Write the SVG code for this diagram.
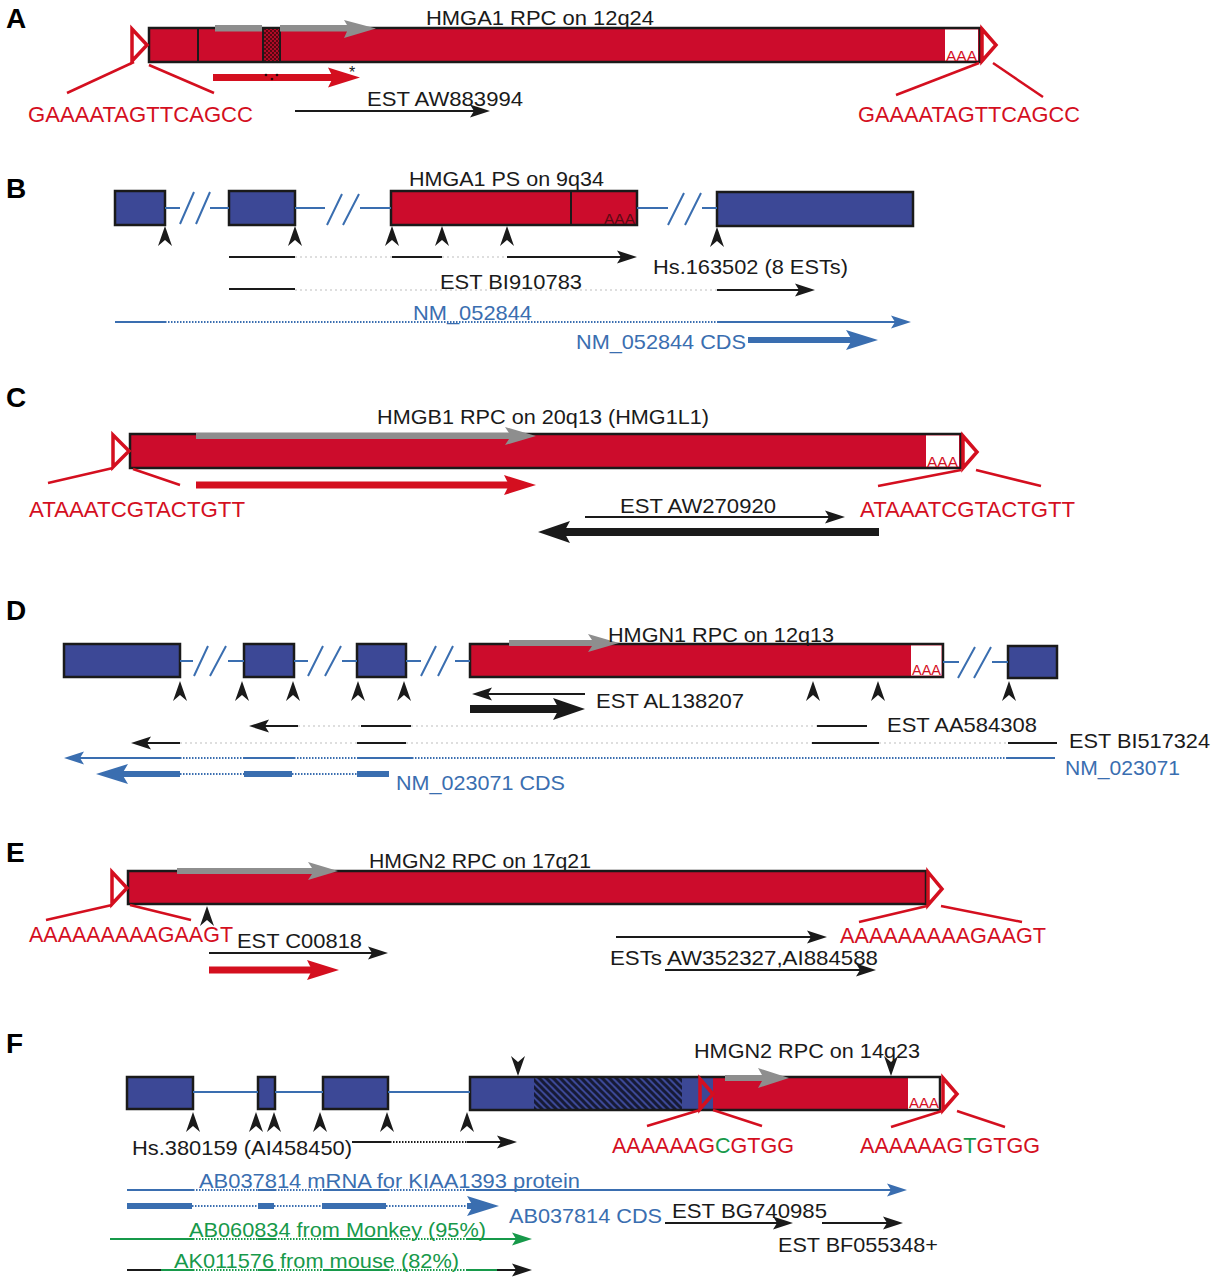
<svg xmlns="http://www.w3.org/2000/svg" width="1213" height="1280" viewBox="0 0 1213 1280">
<style>
.t{font-family:"Liberation Sans",Arial,Helvetica,sans-serif;font-size:21px;fill:#1a1a1a}
.L{font-family:"Liberation Sans",Arial,Helvetica,sans-serif;font-weight:bold;font-size:28px;fill:#000}
.s{fill:#d40f1f;font-size:22px}
.b{fill:#3a6eb0}
.g{fill:#17994a}
.aaa{font-family:"Liberation Sans",Arial,sans-serif;font-size:15px;fill:#d40f1f}
.rbox{fill:#cc0c2c;stroke:#1a1a1a;stroke-width:2.5}
.bbox{fill:#3c4896;stroke:#1a1a1a;stroke-width:2.5}
.wbox{fill:#fff}
.tri{fill:none;stroke:#d40f1f;stroke-width:3.5}
.rl{stroke:#d40f1f;stroke-width:2.5;fill:none}
.kl{stroke:#1a1a1a;stroke-width:2;fill:none}
.kT{stroke:#1a1a1a;stroke-width:8;fill:none}
.bl{stroke:#3a6eb0;stroke-width:2;fill:none}
.bT{stroke:#3a6eb0;stroke-width:6;fill:none}
.rT{stroke:#d40f1f;stroke-width:7;fill:none}
.gl{stroke:#17994a;stroke-width:2;fill:none}
.dt{stroke-dasharray:1.5 1.5}
.fa{stroke:#d4d4d4;stroke-width:1.5;stroke-dasharray:2 3;fill:none}
.gray{fill:#8e8e8e}
.chev{fill:#1a1a1a}
</style>
<defs>
<marker id="mK" markerUnits="userSpaceOnUse" markerWidth="20" markerHeight="13" refX="5" refY="6.5" orient="auto" overflow="visible"><path d="M0,0 L20,6.5 L0,13 L4,6.5 Z" fill="#1a1a1a"/></marker>
<marker id="mKT" markerUnits="userSpaceOnUse" markerWidth="32" markerHeight="22" refX="7" refY="11" orient="auto" overflow="visible"><path d="M0,0 L32,11 L0,22 L6,11 Z" fill="#1a1a1a"/></marker>
<marker id="mB" markerUnits="userSpaceOnUse" markerWidth="20" markerHeight="13" refX="5" refY="6.5" orient="auto" overflow="visible"><path d="M0,0 L20,6.5 L0,13 L4,6.5 Z" fill="#3a6eb0"/></marker>
<marker id="mBT" markerUnits="userSpaceOnUse" markerWidth="32" markerHeight="20" refX="7" refY="10" orient="auto" overflow="visible"><path d="M0,0 L32,10 L0,20 L6,10 Z" fill="#3a6eb0"/></marker>
<marker id="mR" markerUnits="userSpaceOnUse" markerWidth="32" markerHeight="20" refX="6" refY="10" orient="auto" overflow="visible"><path d="M0,0 L32,10 L0,20 L5,10 Z" fill="#d40f1f"/></marker>
<marker id="mG" markerUnits="userSpaceOnUse" markerWidth="20" markerHeight="13" refX="5" refY="6.5" orient="auto" overflow="visible"><path d="M0,0 L20,6.5 L0,13 L4,6.5 Z" fill="#17994a"/></marker>
<path id="chev" d="M0,0 L7,20 L0,14 L-7,20 Z"/>
<pattern id="stip" patternUnits="userSpaceOnUse" width="4" height="4"><rect width="4" height="4" fill="#b00a26"/><circle cx="1" cy="1" r="0.9" fill="#2a0508"/><circle cx="3" cy="3" r="0.9" fill="#2a0508"/></pattern>
<pattern id="hatch" patternUnits="userSpaceOnUse" width="7" height="7"><rect width="7" height="7" fill="#3c4896"/><path d="M0,0 L7,7 M-3.5,3.5 L3.5,10.5 M3.5,-3.5 L10.5,3.5" stroke="#161a36" stroke-width="3"/></pattern>
</defs>
<rect width="1213" height="1280" fill="#fff"/>

<!-- ================= PANEL A ================= -->
<g id="panelA">
<text class="L" x="6" y="28">A</text>
<g id="A-rpc">
<rect class="rbox" x="149" y="28" width="831" height="34"/>
<rect x="263" y="29" width="17" height="32" fill="url(#stip)"/>
<line x1="263" y1="28" x2="263" y2="62" class="kl"/>
<line x1="280" y1="28" x2="280" y2="62" class="kl"/>
<line x1="198" y1="28" x2="198" y2="62" class="kl"/>
<rect class="wbox" x="945" y="29.5" width="33" height="31"/>
<text class="aaa" x="946" y="61" textLength="31" lengthAdjust="spacingAndGlyphs">AAA</text>
<rect class="gray" x="215" y="25" width="47" height="6.5"/>
<path class="gray" d="M280,25 L347,25 L344,20 L376,28.5 L344,38 L347,31.5 L280,31.5 Z"/>
<text class="t" x="426" y="25" textLength="228" lengthAdjust="spacingAndGlyphs">HMGA1 RPC on 12q24</text>
</g>
<g id="A-tsd-left">
<polygon class="tri" points="132,29 147,45 132,61"/>
<text class="t s" x="28" y="122" textLength="225" lengthAdjust="spacingAndGlyphs">GAAAATAGTTCAGCC</text>
</g>
<g id="A-tsd-right">
<polygon class="tri" points="982,29 996,45 982,61"/>
<text class="t s" x="858" y="122" textLength="222" lengthAdjust="spacingAndGlyphs">GAAAATAGTTCAGCC</text>
</g>
<g id="A-est">
<text class="t" x="367" y="106" textLength="156" lengthAdjust="spacingAndGlyphs">EST AW883994</text>
<text class="t" x="349" y="78" style="font-size:16px">*</text>
</g>
</g>

<!-- ================= PANEL B ================= -->
<g id="panelB">
<text class="L" x="6" y="198">B</text>
<g id="B-exon1"><rect class="bbox" x="115" y="191" width="50" height="34"/></g>
<g id="B-exon2"><rect class="bbox" x="229" y="191" width="66" height="34"/></g>
<g id="B-ps">
<rect class="rbox" x="391" y="191" width="246" height="34"/>
<line x1="571" y1="191" x2="571" y2="225" class="kl"/>
<text class="aaa" x="604" y="224" textLength="31" lengthAdjust="spacingAndGlyphs" style="fill:#5a0a14">AAA</text>
<text class="t" x="409" y="186" textLength="195" lengthAdjust="spacingAndGlyphs">HMGA1 PS on 9q34</text>
</g>
<g id="B-exon4"><rect class="bbox" x="717" y="192" width="196" height="34"/></g>
<g id="B-labels">
<text class="t" x="440" y="289" textLength="142" lengthAdjust="spacingAndGlyphs">EST BI910783</text>
<text class="t" x="653" y="274" textLength="195" lengthAdjust="spacingAndGlyphs">Hs.163502 (8 ESTs)</text>
<text class="t b" x="413" y="320" textLength="119" lengthAdjust="spacingAndGlyphs">NM_052844</text>
<text class="t b" x="576" y="349" textLength="170" lengthAdjust="spacingAndGlyphs">NM_052844 CDS</text>
</g>
</g>

<!-- ================= PANEL C ================= -->
<g id="panelC">
<text class="L" x="6" y="407">C</text>
<g id="C-rpc">
<rect class="rbox" x="130" y="434" width="831" height="34"/>
<rect class="wbox" x="926" y="435.5" width="33" height="31"/>
<text class="aaa" x="927" y="467" textLength="31" lengthAdjust="spacingAndGlyphs">AAA</text>
<path class="gray" d="M196,433 L509,433 L505,427 L536,436 L505,445 L509,439 L196,439 Z"/>
<text class="t" x="377" y="424" textLength="332" lengthAdjust="spacingAndGlyphs">HMGB1 RPC on 20q13 (HMG1L1)</text>
</g>
<g id="C-tsd-left">
<polygon class="tri" points="113,435 129,451 113,467"/>
<text class="t s" x="29" y="517" textLength="216" lengthAdjust="spacingAndGlyphs">ATAAATCGTACTGTT</text>
</g>
<g id="C-tsd-right">
<polygon class="tri" points="963,436 977,452 963,468"/>
<text class="t s" x="860" y="517" textLength="215" lengthAdjust="spacingAndGlyphs">ATAAATCGTACTGTT</text>
</g>
<g id="C-est"><text class="t" x="620" y="513" textLength="156" lengthAdjust="spacingAndGlyphs">EST AW270920</text></g>
</g>

<!-- ================= PANEL D ================= -->
<g id="panelD">
<text class="L" x="6" y="620">D</text>
<g id="D-exon1"><rect class="bbox" x="64" y="644" width="116" height="33"/></g>
<g id="D-exon2"><rect class="bbox" x="244" y="644" width="50" height="33"/></g>
<g id="D-exon3"><rect class="bbox" x="357" y="644" width="49" height="33"/></g>
<g id="D-rpc">
<rect class="rbox" x="470" y="644" width="473" height="33"/>
<rect class="wbox" x="911" y="645.5" width="30.5" height="30"/>
<text class="aaa" x="912" y="675" textLength="29" lengthAdjust="spacingAndGlyphs">AAA</text>
<path class="gray" d="M509,640 L592,640 L588,634 L619,643 L588,652 L592,646 L509,646 Z"/>
<text class="t" x="608" y="642" textLength="226" lengthAdjust="spacingAndGlyphs">HMGN1 RPC on 12q13</text>
</g>
<g id="D-exon5"><rect class="bbox" x="1008" y="646" width="49" height="32"/></g>
<g id="D-labels">
<text class="t" x="596" y="708" textLength="148" lengthAdjust="spacingAndGlyphs">EST AL138207</text>
<text class="t" x="887" y="732" textLength="150" lengthAdjust="spacingAndGlyphs">EST AA584308</text>
<text class="t" x="1069" y="748" textLength="141" lengthAdjust="spacingAndGlyphs">EST BI517324</text>
<text class="t b" x="1065" y="775" textLength="115" lengthAdjust="spacingAndGlyphs">NM_023071</text>
<text class="t b" x="396" y="790" textLength="169" lengthAdjust="spacingAndGlyphs">NM_023071 CDS</text>
</g>
</g>

<!-- ================= PANEL E ================= -->
<g id="panelE">
<text class="L" x="6" y="862">E</text>
<g id="E-rpc">
<rect class="rbox" x="128" y="871" width="798" height="33"/>
<path class="gray" d="M177,868 L312,868 L308,862 L338,871 L308,880 L312,874 L177,874 Z"/>
<text class="t" x="369" y="868" textLength="222" lengthAdjust="spacingAndGlyphs">HMGN2 RPC on 17q21</text>
</g>
<g id="E-tsd-left">
<polygon class="tri" points="112,872 127,888 112,904"/>
<text class="t s" x="29" y="942" textLength="204" lengthAdjust="spacingAndGlyphs">AAAAAAAAAGAAGT</text>
</g>
<g id="E-tsd-right">
<polygon class="tri" points="928,872 942,889 928,905"/>
<text class="t s" x="840" y="943" textLength="206" lengthAdjust="spacingAndGlyphs">AAAAAAAAAGAAGT</text>
</g>
<g id="E-labels">
<text class="t" x="237" y="948" textLength="125" lengthAdjust="spacingAndGlyphs">EST C00818</text>
<text class="t" x="610" y="965" textLength="268" lengthAdjust="spacingAndGlyphs">ESTs AW352327,AI884588</text>
</g>
</g>

<!-- ================= PANEL F ================= -->
<g id="panelF">
<text class="L" x="6" y="1053">F</text>
<g id="F-exon1"><rect class="bbox" x="127" y="1077" width="66" height="32"/></g>
<g id="F-exon2"><rect class="bbox" x="258" y="1077" width="17" height="32"/></g>
<g id="F-exon3"><rect class="bbox" x="323" y="1077" width="65" height="32"/></g>
<g id="F-exon4-rpc">
<rect x="470" y="1077" width="64" height="33" fill="#3c4896"/>
<rect x="534" y="1077" width="148" height="33" fill="url(#hatch)"/>
<rect x="682" y="1077" width="31" height="33" fill="#3c4896"/>
<rect x="713" y="1077" width="195" height="33" fill="#cc0c2c"/>
<rect x="908" y="1077" width="32" height="33" fill="#fff"/>
<rect x="470" y="1077" width="470" height="33" fill="none" stroke="#1a1a1a" stroke-width="2.5"/>
<text class="aaa" x="909" y="1108" textLength="30" lengthAdjust="spacingAndGlyphs">AAA</text>
<path class="gray" d="M725,1075 L762,1075 L758,1068 L789,1078 L758,1088 L762,1081 L725,1081 Z"/>
<text class="t" x="694" y="1058" textLength="226" lengthAdjust="spacingAndGlyphs">HMGN2 RPC on 14q23</text>
</g>
<g id="F-tsd-left">
<polygon class="tri" points="700,1079 713,1094 700,1109"/>
<text class="t s" x="612" y="1153" textLength="182" lengthAdjust="spacingAndGlyphs">AAAAAAG<tspan style="fill:#17994a">C</tspan>GTGG</text>
</g>
<g id="F-tsd-right">
<polygon class="tri" points="943,1078 957,1094 943,1110"/>
<text class="t s" x="860" y="1153" textLength="180" lengthAdjust="spacingAndGlyphs">AAAAAAG<tspan style="fill:#17994a">T</tspan>GTGG</text>
</g>
<g id="F-labels">
<text class="t" x="132" y="1155" textLength="220" lengthAdjust="spacingAndGlyphs">Hs.380159 (AI458450)</text>
<text class="t b" x="199" y="1188" textLength="381" lengthAdjust="spacingAndGlyphs">AB037814 mRNA for KIAA1393 protein</text>
<text class="t b" x="509" y="1223" textLength="153" lengthAdjust="spacingAndGlyphs">AB037814 CDS</text>
<text class="t" x="672" y="1218" textLength="155" lengthAdjust="spacingAndGlyphs">EST BG740985</text>
<text class="t" x="778" y="1252" textLength="160" lengthAdjust="spacingAndGlyphs">EST BF055348+</text>
<text class="t g" x="189" y="1237" textLength="297" lengthAdjust="spacingAndGlyphs">AB060834 from Monkey (95%)</text>
<text class="t g" x="174" y="1268" textLength="285" lengthAdjust="spacingAndGlyphs">AK011576 from mouse (82%)</text>
</g>
</g>

<!-- ================= CONNECTORS ================= -->
<g id="connectors">
<!-- A -->
<line class="rl" x1="134" y1="62" x2="67" y2="93"/>
<line class="rl" x1="149" y1="65" x2="214" y2="93"/>
<line class="rl" x1="979" y1="63" x2="896" y2="95"/>
<line class="rl" x1="993" y1="63" x2="1043" y2="97"/>
<line class="rT" x1="213" y1="77.5" x2="334" y2="77.5" marker-end="url(#mR)"/>
<circle cx="266" cy="75" r="1.3" fill="#2a0508"/><circle cx="272" cy="79" r="1.3" fill="#2a0508"/><circle cx="277" cy="75" r="1.3" fill="#2a0508"/>
<line class="kl" x1="295" y1="111" x2="475" y2="111" marker-end="url(#mK)"/>

<!-- B introns -->
<path class="bl" d="M165,208 H180 M210,208 H229 M295,208 H325 M360,208 H391 M637,208 H668 M702,208 H717"/>
<path class="bl" d="M180,224 L194,192 M196,224 L210,192 M327,225 L342,194 M343,225 L359,194 M668,225 L684,193 M685,225 L701,193"/>
<g class="chev">
<use href="#chev" x="165" y="226"/><use href="#chev" x="295" y="226"/><use href="#chev" x="392" y="226"/>
<use href="#chev" x="442" y="226"/><use href="#chev" x="507" y="226"/><use href="#chev" x="717" y="227"/>
</g>
<line class="kl" x1="229" y1="257" x2="295" y2="257"/>
<line class="fa" x1="295" y1="257" x2="392" y2="257"/>
<line class="kl" x1="392" y1="257" x2="442" y2="257"/>
<line class="fa" x1="442" y1="257" x2="507" y2="257"/>
<line class="kl" x1="507" y1="257" x2="622" y2="257" marker-end="url(#mK)"/>
<line class="kl" x1="229" y1="289" x2="295" y2="289"/>
<line class="fa" x1="295" y1="290" x2="717" y2="290"/>
<line class="kl" x1="717" y1="290" x2="800" y2="290" marker-end="url(#mK)"/>
<line class="bl" x1="115" y1="322" x2="165" y2="322"/>
<line class="bl dt" x1="165" y1="322" x2="717" y2="322"/>
<line class="bl" x1="717" y1="322" x2="896" y2="322" marker-end="url(#mB)"/>
<line class="bT" x1="748" y1="340" x2="853" y2="340" marker-end="url(#mBT)"/>

<!-- C -->
<line class="rl" x1="113" y1="468" x2="48" y2="483"/>
<line class="rl" x1="133" y1="469" x2="180" y2="485"/>
<line class="rl" x1="961" y1="470" x2="878" y2="486"/>
<line class="rl" x1="976" y1="470" x2="1041" y2="486"/>
<line class="rT" x1="196" y1="485" x2="510" y2="485" marker-end="url(#mR)"/>
<line class="kl" x1="585" y1="517" x2="830" y2="517" marker-end="url(#mK)"/>
<line class="kT" x1="879" y1="532" x2="563" y2="532" marker-end="url(#mKT)"/>

<!-- D introns -->
<path class="bl" d="M180,661 H193 M228,661 H244 M294,661 H308 M342,661 H357 M406,661 H421 M455,661 H470 M943,662 H959 M992,662 H1008"/>
<path class="bl" d="M194,676 L208,646 M210,676 L226,646 M308,676 L323,646 M325,676 L341,646 M421,676 L436,646 M438,676 L453,646 M958,678 L975,647 M974,678 L991,647"/>
<g class="chev">
<use href="#chev" x="180" y="681"/><use href="#chev" x="242" y="681"/><use href="#chev" x="293" y="681"/>
<use href="#chev" x="358" y="681"/><use href="#chev" x="404" y="681"/><use href="#chev" x="813" y="681"/>
<use href="#chev" x="878" y="681"/><use href="#chev" x="1009" y="681"/>
</g>
<line class="kl" x1="585" y1="694" x2="487" y2="694" marker-end="url(#mK)"/>
<line class="kT" x1="470" y1="709" x2="560" y2="709" marker-end="url(#mKT)"/>
<line class="kl" x1="298" y1="726" x2="264" y2="726" marker-end="url(#mK)"/>
<line class="fa" x1="298" y1="726" x2="361" y2="726"/>
<line class="kl" x1="361" y1="726" x2="411" y2="726"/>
<line class="fa" x1="411" y1="726" x2="817" y2="726"/>
<line class="kl" x1="817" y1="726" x2="867" y2="726"/>
<line class="kl" x1="180" y1="743" x2="146" y2="743" marker-end="url(#mK)"/>
<line class="fa" x1="180" y1="743" x2="357" y2="743"/>
<line class="kl" x1="357" y1="743" x2="406" y2="743"/>
<line class="fa" x1="406" y1="743" x2="812" y2="743"/>
<line class="kl" x1="812" y1="743" x2="879" y2="743"/>
<line class="fa" x1="879" y1="743" x2="1008" y2="743"/>
<line class="kl" x1="1008" y1="743" x2="1057" y2="743"/>
<line class="bl" x1="180" y1="758" x2="79" y2="758" marker-end="url(#mB)"/>
<line class="bl dt" x1="180" y1="758" x2="244" y2="758"/>
<line class="bl" x1="244" y1="758" x2="294" y2="758"/>
<line class="bl dt" x1="294" y1="758" x2="357" y2="758"/>
<line class="bl" x1="357" y1="758" x2="412" y2="758"/>
<line class="bl dt" x1="412" y1="758" x2="1007" y2="758"/>
<line class="bl" x1="1007" y1="758" x2="1055" y2="758"/>
<line class="bT" x1="180" y1="774" x2="121" y2="774" marker-end="url(#mBT)"/>
<line class="bl dt" x1="180" y1="774" x2="244" y2="774"/>
<line class="bT" x1="244" y1="774" x2="292" y2="774"/>
<line class="bl dt" x1="292" y1="774" x2="357" y2="774"/>
<line class="bT" x1="357" y1="774" x2="389" y2="774"/>

<!-- E -->
<line class="rl" x1="112" y1="905" x2="46" y2="920"/>
<line class="rl" x1="130" y1="905" x2="191" y2="920"/>
<line class="rl" x1="927" y1="906" x2="859" y2="922"/>
<line class="rl" x1="941" y1="906" x2="1022" y2="922"/>
<use class="chev" href="#chev" x="207" y="906"/>
<line class="kl" x1="209" y1="953" x2="373" y2="953" marker-end="url(#mK)"/>
<line class="rT" x1="209" y1="970" x2="313" y2="970" marker-end="url(#mR)"/>
<line class="kl" x1="616" y1="937" x2="812" y2="937" marker-end="url(#mK)"/>
<line class="kl" x1="665" y1="970" x2="861" y2="970" marker-end="url(#mK)"/>

<!-- F -->
<path class="bl" d="M193,1092 H258 M275,1092 H323 M388,1092 H470"/>
<g class="chev">
<use href="#chev" x="193" y="1112"/><use href="#chev" x="256" y="1112"/><use href="#chev" x="274" y="1112"/>
<use href="#chev" x="320" y="1112"/><use href="#chev" x="387" y="1112"/><use href="#chev" x="467" y="1112"/>
<use href="#chev" transform="translate(518,1076) rotate(180)"/>
<use href="#chev" transform="translate(891,1076) rotate(180)"/>
</g>
<line class="rl" x1="700" y1="1110" x2="647" y2="1126"/>
<line class="rl" x1="713" y1="1110" x2="762" y2="1126"/>
<line class="rl" x1="942" y1="1111" x2="891" y2="1127"/>
<line class="rl" x1="957" y1="1111" x2="1005" y2="1127"/>
<line class="kl" x1="352" y1="1142" x2="390" y2="1142"/>
<line class="kl dt" x1="390" y1="1142" x2="467" y2="1142"/>
<line class="kl" x1="467" y1="1142" x2="502" y2="1142" marker-end="url(#mK)"/>
<path class="bl" d="M127,1190 H193 M258,1190 H275 M323,1190 H388"/>
<path class="bl dt" d="M193,1190 H258 M275,1190 H323 M388,1190 H467"/>
<line class="bl" x1="467" y1="1190" x2="892" y2="1190" marker-end="url(#mB)"/>
<path class="bT" d="M127,1206 H192 M258,1206 H274 M322,1206 H386"/>
<path class="bl dt" d="M192,1206 H258 M274,1206 H322 M386,1206 H467"/>
<line class="bT" x1="467" y1="1206" x2="474" y2="1206" marker-end="url(#mBT)"/>
<line class="kl" x1="665" y1="1223" x2="778" y2="1223" marker-end="url(#mK)"/>
<line class="kl" x1="822" y1="1223" x2="888" y2="1223" marker-end="url(#mK)"/>
<path class="gl" d="M110,1239 H193 M258,1239 H275 M323,1239 H388"/>
<path class="gl dt" d="M193,1239 H258 M275,1239 H323 M388,1239 H467"/>
<line class="gl" x1="467" y1="1239" x2="517" y2="1239" marker-end="url(#mG)"/>
<line class="kl" x1="127" y1="1270" x2="161" y2="1270"/>
<path class="gl" d="M161,1270 H193 M258,1270 H275 M323,1270 H388 M467,1270 H497"/>
<path class="gl dt" d="M193,1270 H258 M275,1270 H323 M388,1270 H467"/>
<line class="kl" x1="497" y1="1270" x2="517" y2="1270" marker-end="url(#mK)"/>
</g>
</svg>
